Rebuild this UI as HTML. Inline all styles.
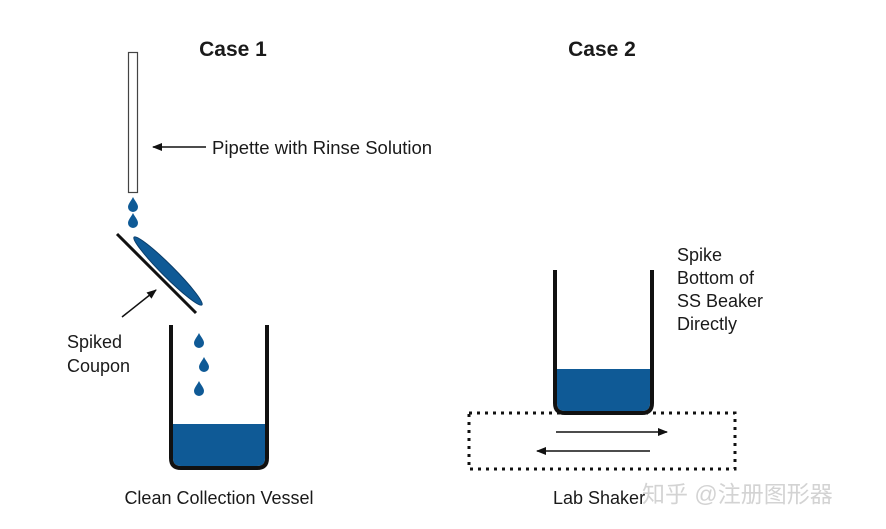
<!DOCTYPE html>
<html><head><meta charset="utf-8"><style>
html,body{margin:0;padding:0;background:#fff;}
svg{display:block;}
text{font-family:"Liberation Sans","Noto Sans CJK SC",sans-serif;fill:#1a1a1a;}
</style></head><body>
<svg width="886" height="529" viewBox="0 0 886 529" xmlns="http://www.w3.org/2000/svg">
<defs>
<marker id="ah" markerWidth="10" markerHeight="8" refX="9" refY="4" orient="auto" markerUnits="userSpaceOnUse">
<path d="M0,0 L10,4 L0,8 Z" fill="#111"/></marker>
<path id="drop" d="M0,-8 C2,-4 5,-1 5,2 A5,5 0 0 1 -5,2 C-5,-1 -2,-4 0,-8 Z" fill="#0f5a96"/>
</defs>
<text x="233" y="56" font-size="21" font-weight="bold" text-anchor="middle">Case 1</text>
<text x="602" y="56" font-size="21" font-weight="bold" text-anchor="middle">Case 2</text>
<!-- pipette -->
<rect x="128.5" y="52.5" width="9" height="140" fill="#fff" stroke="#444" stroke-width="1.2"/>
<line x1="206" y1="147" x2="153" y2="147" stroke="#111" stroke-width="1.5" marker-end="url(#ah)"/>
<text x="212" y="154" font-size="18.5">Pipette with Rinse Solution</text>
<use href="#drop" x="133" y="205"/>
<use href="#drop" x="133" y="221"/>
<!-- coupon -->
<line x1="117" y1="234" x2="196" y2="313" stroke="#111" stroke-width="3"/>
<ellipse cx="168" cy="271" rx="48" ry="6" transform="rotate(45 168 271)" fill="#0f5a96" stroke="#0a3d6a" stroke-width="1"/>
<line x1="122" y1="317" x2="156" y2="290" stroke="#111" stroke-width="1.5" marker-end="url(#ah)"/>
<text x="67" y="348" font-size="18">Spiked</text>
<text x="67" y="372" font-size="18">Coupon</text>
<!-- vessel 1 -->
<path d="M173,424 H265 V458 Q265,466 257,466 H181 Q173,466 173,458 Z" fill="#0f5a96"/>
<path d="M171,325 V458 Q171,468 181,468 H257 Q267,468 267,458 V325" fill="none" stroke="#111" stroke-width="4"/>
<use href="#drop" x="199" y="341"/>
<use href="#drop" x="204" y="365"/>
<use href="#drop" x="199" y="389"/>
<text x="219" y="504" font-size="18" text-anchor="middle">Clean Collection Vessel</text>
<!-- beaker 2 -->
<path d="M557,369 H650 V403 Q650,411 642,411 H565 Q557,411 557,403 Z" fill="#0f5a96"/>
<path d="M555,270 V403 Q555,413 565,413 H642 Q652,413 652,403 V270" fill="none" stroke="#111" stroke-width="4"/>
<text x="677" y="261" font-size="18">Spike</text>
<text x="677" y="284" font-size="18">Bottom of</text>
<text x="677" y="307" font-size="18">SS Beaker</text>
<text x="677" y="330" font-size="18">Directly</text>
<rect x="469" y="413" width="266" height="56" fill="none" stroke="#111" stroke-width="3" stroke-dasharray="3,5"/>
<line x1="556" y1="432" x2="667" y2="432" stroke="#111" stroke-width="1.5" marker-end="url(#ah)"/>
<line x1="650" y1="451" x2="537" y2="451" stroke="#111" stroke-width="1.5" marker-end="url(#ah)"/>
<text x="553" y="504" font-size="18">Lab Shaker</text>
<text x="642" y="502" font-size="23" style="fill:#cfcfcf" opacity="0.9">知乎 @注册图形器</text>
</svg>
</body></html>
